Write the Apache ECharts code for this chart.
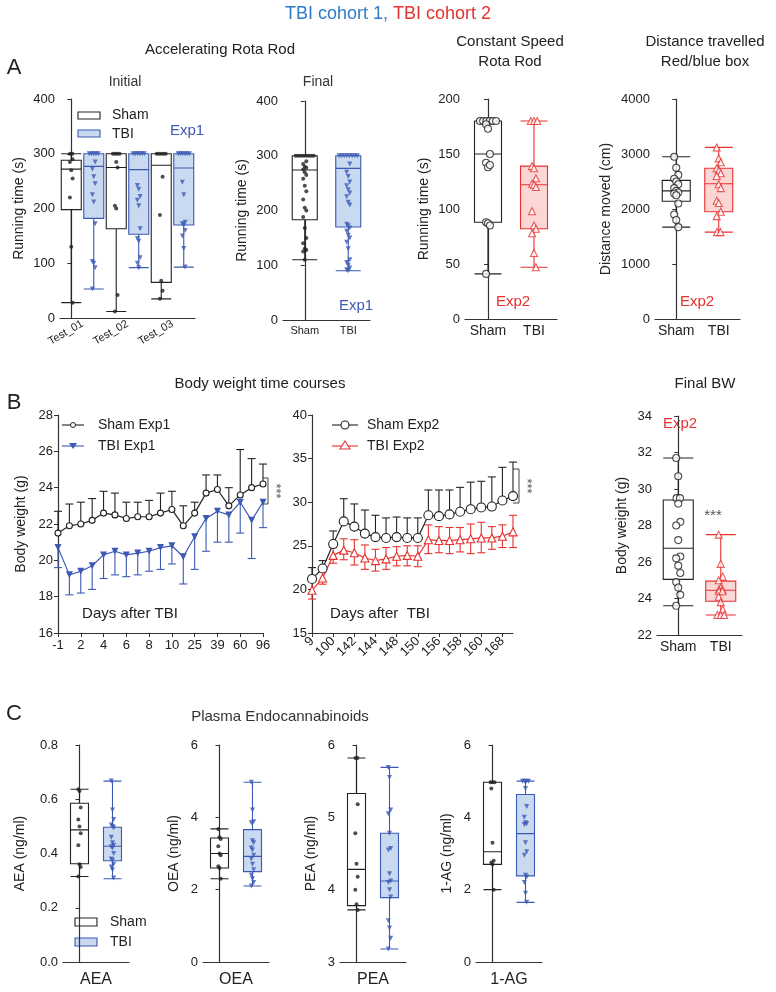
<!DOCTYPE html>
<html lang="en">
<head>
<meta charset="UTF-8">
<script src="https://cdn.jsdelivr.net/npm/echarts@6/dist/echarts.min.js"></script>
<title>TBI cohorts</title>
<style>body{margin:0;background:#fff}</style>
</head>
<body>
<div id="main" style="width:776px;height:992px"></div>
<script type="text/javascript">
// ---- data ----
var initGroups = ['Test_01', 'Test_02', 'Test_03'];
var init01Sham = [28, 198, 272, 288, 300];
var init01ShamPts = [300, 300, 290, 285, 270, 255, 220, 130, 28];
var init01Tbi = [53, 182, 277, 300, 300];
var init01TbiPts = [300, 300, 300, 300, 300, 285, 272, 258, 245, 225, 212, 172, 103, 100, 92, 53];
var init02Sham = [12, 163, 275, 300, 300];
var init02ShamPts = [300, 300, 300, 300, 285, 275, 205, 200, 42, 12];
var init02Tbi = [92, 153, 271, 300, 300];
var init02TbiPts = [300, 300, 300, 300, 300, 300, 242, 235, 222, 215, 205, 163, 145, 140, 110, 100, 92];
var init03Sham = [35, 65, 279, 300, 300];
var init03ShamPts = [300, 300, 300, 300, 300, 258, 188, 68, 50, 35];
var init03Tbi = [93, 170, 274, 300, 300];
var init03TbiPts = [300, 300, 300, 300, 300, 300, 248, 225, 175, 172, 170, 160, 150, 127, 93];

var groupsShamTbi = ['Sham', 'TBI'];
var finalSham = [110, 183, 274, 300, 300];
var finalShamPts = [300, 300, 300, 300, 300, 300, 300, 300, 290, 285, 280, 278, 275, 270, 265, 258, 245, 235, 220, 205, 200, 188, 168, 150, 140, 130, 128, 125, 110];
var finalTbi = [90, 170, 277, 300, 300];
var finalTbiPts = [300, 300, 300, 300, 300, 300, 300, 300, 285, 270, 262, 252, 245, 238, 232, 225, 215, 210, 175, 172, 168, 162, 155, 150, 142, 130, 110, 105, 100, 95, 92, 90];

var constSham = [41, 88, 150, 180, 180];
var constShamPts = [180, 180, 180, 180, 180, 180, 177, 173, 150, 142, 138, 140, 88, 87, 85, 41];
var constTbi = [47, 82, 122, 139, 180];
var constTbiPts = [180, 180, 180, 139, 137, 128, 123, 122, 120, 98, 85, 82, 78, 60, 47];

var distSham = [1670, 2140, 2330, 2520, 2950];
var distShamPts = [2950, 2750, 2620, 2550, 2500, 2450, 2380, 2330, 2300, 2280, 2250, 2100, 1900, 1800, 1670];
var distTbi = [1580, 1950, 2460, 2740, 3120];
var distTbiPts = [3120, 2920, 2850, 2740, 2700, 2650, 2600, 2450, 2380, 2150, 2110, 1950, 1870, 1580, 1580];

var days1 = ['-1', '1', '2', '3', '4', '5', '6', '7', '8', '9', '10', '14', '25', '32', '39', '46', '60', '74', '96'];
var sham1Mean = [21.5, 21.9, 22.0, 22.2, 22.6, 22.5, 22.3, 22.4, 22.4, 22.6, 22.8, 21.9, 22.6, 23.7, 23.9, 23.0, 23.6, 24.0, 24.2];
var sham1Hi = [22.7, 23.1, 23.2, 23.4, 23.8, 23.7, 23.2, 23.2, 23.3, 23.7, 23.8, 23.0, 23.2, 24.7, 24.7, 24.0, 26.1, 25.6, 25.3];
var tbi1Mean = [20.7, 19.2, 19.4, 19.7, 20.3, 20.5, 20.3, 20.4, 20.5, 20.7, 20.8, 20.2, 21.3, 22.3, 22.7, 22.5, 23.2, 22.2, 23.2];
var tbi1Lo = [19.6, 18.1, 18.2, 18.4, 19.0, 19.2, 19.1, 19.2, 19.4, 19.5, 19.8, 18.7, 19.5, 20.5, 21.0, 21.0, 21.5, 20.1, 21.8];

var days2 = ['9', '50', '100', '120', '142', '143', '144', '146', '148', '149', '150', '155', '156', '157', '158', '159', '160', '165', '168', '170'];
var sham2Mean = [21.2, 22.4, 25.2, 27.8, 27.2, 26.4, 26.0, 25.9, 26.0, 25.9, 25.9, 28.5, 28.4, 28.6, 28.9, 29.2, 29.4, 29.5, 30.2, 30.7];
var sham2Hi = [22.5, 23.3, 26.7, 30.4, 29.8, 29.1, 28.5, 28.2, 28.3, 28.2, 28.2, 31.4, 31.4, 31.4, 31.7, 32.3, 32.4, 32.9, 34.0, 34.6];
var tbi2Mean = [19.9, 21.3, 23.9, 24.5, 24.2, 23.6, 23.3, 23.5, 23.8, 23.9, 23.8, 25.7, 25.6, 25.6, 25.7, 25.8, 25.9, 25.9, 26.1, 26.6];
var tbi2Hi = [20.9, 22.0, 24.8, 25.8, 25.7, 25.1, 24.6, 24.8, 24.9, 25.0, 25.0, 27.4, 27.2, 27.1, 27.1, 27.5, 27.7, 27.2, 27.4, 28.5];
var tbi2Lo = [18.9, 20.6, 23.0, 23.4, 22.8, 22.3, 22.1, 22.3, 22.7, 22.7, 22.6, 24.1, 24.2, 24.1, 24.3, 24.1, 24.2, 24.6, 24.8, 24.8];

var bwSham = [23.6, 25.05, 26.75, 29.4, 31.7];
var bwShamPts = [31.7, 30.7, 29.5, 29.5, 29.2, 28.2, 28.0, 27.2, 26.3, 26.2, 25.8, 25.4, 24.9, 24.6, 24.2, 23.6];
var bwTbi = [23.1, 23.85, 24.45, 24.95, 27.5];
var bwTbiPts = [27.5, 25.9, 25.2, 25.0, 24.6, 24.5, 24.5, 24.4, 24.4, 24.1, 23.8, 23.4, 23.1, 23.1, 23.1];

var aeaSham = [0.315, 0.362, 0.487, 0.585, 0.637];
var aeaShamPts = [0.637, 0.63, 0.57, 0.525, 0.5, 0.475, 0.43, 0.36, 0.35, 0.315];
var aeaTbi = [0.307, 0.373, 0.427, 0.497, 0.667];
var aeaTbiPts = [0.667, 0.56, 0.525, 0.505, 0.5, 0.495, 0.46, 0.44, 0.43, 0.425, 0.42, 0.40, 0.38, 0.375, 0.36, 0.35, 0.34, 0.31];
var oeaSham = [2.3, 2.6, 3.0, 3.43, 3.68];
var oeaShamPts = [3.68, 3.45, 3.4, 3.2, 3.0, 2.95, 2.65, 2.6, 2.3];
var oeaTbi = [2.1, 2.5, 2.92, 3.66, 4.97];
var oeaTbiPts = [4.97, 4.2, 3.88, 3.85, 3.35, 3.3, 3.15, 3.1, 2.95, 2.85, 2.7, 2.55, 2.4, 2.3, 2.2, 2.1];
var peaSham = [3.72, 3.78, 4.28, 5.33, 5.82];
var peaShamPts = [5.82, 5.82, 5.18, 4.78, 4.36, 4.18, 4.0, 3.8, 3.72];
var peaTbi = [3.18, 3.89, 4.12, 4.78, 5.69];
var peaTbiPts = [5.69, 5.55, 5.1, 5.05, 4.78, 4.57, 4.55, 4.22, 4.12, 4.1, 4.0, 3.9, 3.57, 3.47, 3.33, 3.18];
var agSham = [2.0, 2.7, 3.05, 4.97, 4.97];
var agShamPts = [4.97, 4.97, 4.97, 4.8, 3.3, 2.8, 2.75, 2.7, 2.0];
var agTbi = [1.65, 2.38, 3.55, 4.63, 5.0];
var agTbiPts = [5, 5, 5, 5, 4.8, 4.3, 4.0, 3.85, 3.82, 3.8, 3.3, 3.05, 2.95, 2.4, 2.35, 2.2, 1.9, 1.65];

// ---- styles ----
var FONT = 'Liberation Sans, Arial, sans-serif';
var AX = '#333';
var BLUE = '#3b59b5', BLUEFILL = '#c8d9f0';
var RED = '#e8312f', REDFILL = '#fad6d5';
var BLACK = '#222';

var grids = [], xAxes = [], yAxes = [], series = [];

function jitter(pts, spread) {
    // spread tied values sideways, others slightly alternating
    var out = [];
    pts.forEach(function (v, i) {
        var same = pts.filter(function (w) { return w === v; }).length;
        if (same > 1) {
            var k = pts.slice(0, i).filter(function (w) { return w === v; }).length;
            out.push((k - (same - 1) / 2) * spread);
        } else {
            out.push(((i % 3) - 1) * spread * 0.6);
        }
    });
    return out;
}

function axisY(gi, p) {
    return {
        gridIndex: gi, type: 'value', min: p.ymin, max: p.ymax, interval: p.interval, position: 'left',
        name: p.yname, nameLocation: 'middle', nameGap: p.nameGap || 34,
        nameTextStyle: { fontSize: 14, color: '#222', fontFamily: FONT },
        splitLine: { show: false },
        axisLine: { show: true, lineStyle: { color: AX, width: 1.2 } },
        axisTick: { show: true, length: 4, lineStyle: { color: AX } },
        axisLabel: { fontSize: 13, color: '#222', fontFamily: FONT, margin: 5,
            formatter: function (v) { return v.toFixed(p.dec || 0); } }
    };
}

function addBoxPanel(p) {
    var gi = grids.length;
    grids.push({ left: p.left, top: p.top, width: p.width, height: p.height });
    var N = p.boxes.length;
    var xa0 = xAxes.length;
    xAxes.push({ gridIndex: gi, type: 'category', position: 'bottom', data: p.boxes.map(function (b, i) { return 'b' + i; }), show: false });
    xAxes.push({
        gridIndex: gi, type: 'category', position: 'bottom', data: p.groups,
        axisLine: { lineStyle: { color: AX, width: 1.2 } },
        axisTick: { alignWithLabel: true, length: 4, lineStyle: { color: AX } },
        axisLabel: { interval: 0, rotate: p.rotate || 0, fontSize: p.xfont || 13, color: '#222', fontFamily: FONT, margin: p.xmargin || 5 }
    });
    var xa2 = xAxes.length;
    xAxes.push({ gridIndex: gi, type: 'value', position: 'bottom', min: -0.5, max: N - 0.5, show: false });
    var ya = yAxes.length;
    yAxes.push(axisY(gi, p));
    series.push({
        type: 'boxplot', xAxisIndex: xa0, yAxisIndex: ya, boxWidth: [p.bw, p.bw], z: 2,
        data: p.boxes.map(function (b) {
            return { value: b.stats, itemStyle: { color: b.fill, borderColor: b.color, borderWidth: 1.1 } };
        })
    });
    p.boxes.forEach(function (b, i) {
        var off = jitter(b.pts, p.spread || 0.07);
        series.push({
            type: 'scatter', xAxisIndex: xa2, yAxisIndex: ya, z: 3,
            symbol: b.symbol, symbolSize: b.size, symbolRotate: b.rot || 0,
            itemStyle: b.hollow ? { color: '#fff', borderColor: b.color, borderWidth: 1.1 } : { color: b.color },
            data: b.pts.map(function (v, k) { return [i + off[k], v]; })
        });
    });
}

var sham1 = function (stats, pts) { return { stats: stats, pts: pts, color: BLACK, fill: '#fff', symbol: 'circle', size: 4 }; };
var tbi1 = function (stats, pts) { return { stats: stats, pts: pts, color: BLUE, fill: BLUEFILL, symbol: 'triangle', rot: 180, size: 5 }; };
var sham2 = function (stats, pts) { return { stats: stats, pts: pts, color: BLACK, fill: '#fff', symbol: 'circle', size: 7, hollow: true }; };
var tbi2 = function (stats, pts) { return { stats: stats, pts: pts, color: RED, fill: REDFILL, symbol: 'triangle', size: 7, hollow: true }; };

// Panel A
addBoxPanel({ left: 60, top: 99, width: 135, height: 219, ymin: 0, ymax: 400, interval: 100, yname: 'Running time (s)', nameGap: 34,
    groups: initGroups, rotate: 30, xfont: 11, bw: 20, spread: 0.1,
    boxes: [sham1(init01Sham, init01ShamPts), tbi1(init01Tbi, init01TbiPts), sham1(init02Sham, init02ShamPts),
        tbi1(init02Tbi, init02TbiPts), sham1(init03Sham, init03ShamPts), tbi1(init03Tbi, init03TbiPts)] });
addBoxPanel({ left: 283, top: 101, width: 87, height: 219, ymin: 0, ymax: 400, interval: 100, yname: 'Running time (s)', nameGap: 34,
    groups: groupsShamTbi, xfont: 11, bw: 25, spread: 0.06,
    boxes: [sham1(finalSham, finalShamPts), tbi1(finalTbi, finalTbiPts)] });
addBoxPanel({ left: 465, top: 99, width: 92, height: 220, ymin: 0, ymax: 200, interval: 50, yname: 'Running time (s)', nameGap: 34,
    groups: groupsShamTbi, xfont: 14, bw: 27, spread: 0.07,
    boxes: [sham2(constSham, constShamPts), tbi2(constTbi, constTbiPts)] });
addBoxPanel({ left: 655, top: 99, width: 85, height: 220, ymin: 0, ymax: 4000, interval: 1000, yname: 'Distance moved (cm)', nameGap: 42,
    groups: groupsShamTbi, xfont: 14, bw: 28, spread: 0.08,
    boxes: [sham2(distSham, distShamPts), tbi2(distTbi, distTbiPts)] });

// Panel B line charts
function addLinePanel(p) {
    var gi = grids.length;
    grids.push({ left: p.left, top: p.top, width: p.width, height: p.height });
    var xa = xAxes.length;
    xAxes.push({
        gridIndex: gi, type: 'category', position: 'bottom', data: p.days, boundaryGap: false,
        axisLine: { lineStyle: { color: AX, width: 1.2 } },
        axisTick: { interval: 1, length: 4, lineStyle: { color: AX } },
        axisLabel: { interval: 1, rotate: p.rotate || 0, fontSize: 13, color: '#222', fontFamily: FONT, margin: 6 }
    });
    var ya = yAxes.length;
    yAxes.push(axisY(gi, p));
    p.lines.forEach(function (l) {
        series.push({
            type: 'custom', xAxisIndex: xa, yAxisIndex: ya, z: 2,
            renderItem: function (params, api) {
                var ch = [];
                [1, 2].forEach(function (k) {
                    var v = api.value(k + 1);
                    if (isNaN(v)) return;
                    var a = api.coord([api.value(0), api.value(1)]);
                    var b = api.coord([api.value(0), v]);
                    ch.push({ type: 'line', shape: { x1: a[0], y1: a[1], x2: b[0], y2: b[1] }, style: { stroke: l.color, lineWidth: 1.1 } });
                    ch.push({ type: 'line', shape: { x1: b[0] - 4, y1: b[1], x2: b[0] + 4, y2: b[1] }, style: { stroke: l.color, lineWidth: 1.1 } });
                });
                return { type: 'group', children: ch };
            },
            data: l.mean.map(function (m, i) {
                return [i, m, l.hi ? l.hi[i] : NaN, l.lo ? l.lo[i] : NaN];
            })
        });
        series.push({
            type: 'line', xAxisIndex: xa, yAxisIndex: ya, data: l.mean, z: 3,
            symbol: l.symbol, symbolSize: l.size, symbolRotate: l.rot || 0, showAllSymbol: true,
            lineStyle: { color: l.color, width: 1.2 },
            itemStyle: l.hollow ? { color: '#fff', borderColor: l.color, borderWidth: 1.1 } : { color: l.color }
        });
    });
}
addLinePanel({ left: 58, top: 415, width: 205, height: 218, ymin: 16, ymax: 28, interval: 2, yname: 'Body weight (g)', nameGap: 30,
    days: days1, lines: [
        { mean: sham1Mean, hi: sham1Hi, color: BLACK, symbol: 'circle', size: 6, hollow: true },
        { mean: tbi1Mean, lo: tbi1Lo, color: BLUE, symbol: 'triangle', rot: 180, size: 7 }] });
addLinePanel({ left: 312, top: 415, width: 201, height: 218, ymin: 15, ymax: 40, interval: 5, yname: '', rotate: 45,
    days: days2, lines: [
        { mean: sham2Mean, hi: sham2Hi, color: BLACK, symbol: 'circle', size: 9, hollow: true },
        { mean: tbi2Mean, hi: tbi2Hi, lo: tbi2Lo, color: RED, symbol: 'triangle', size: 8, hollow: true }] });
addBoxPanel({ left: 657, top: 416, width: 85, height: 219, ymin: 22, ymax: 34, interval: 2, yname: 'Body weight (g)', nameGap: 28,
    groups: groupsShamTbi, xfont: 14, bw: 30, spread: 0.08,
    boxes: [sham2(bwSham, bwShamPts), tbi2(bwTbi, bwTbiPts)] });

// Panel C
var cPanels = [
    { left: 63, ymin: 0, ymax: 0.8, interval: 0.2, dec: 1, yname: 'AEA (ng/ml)', g: 'AEA', s: aeaSham, sp: aeaShamPts, t: aeaTbi, tp: aeaTbiPts, gap: 36 },
    { left: 203, ymin: 0, ymax: 6, interval: 2, yname: 'OEA (ng/ml)', g: 'OEA', s: oeaSham, sp: oeaShamPts, t: oeaTbi, tp: oeaTbiPts, gap: 22 },
    { left: 340, ymin: 3, ymax: 6, interval: 1, yname: 'PEA (ng/ml)', g: 'PEA', s: peaSham, sp: peaShamPts, t: peaTbi, tp: peaTbiPts, gap: 22 },
    { left: 476, ymin: 0, ymax: 6, interval: 2, yname: '1-AG (ng/ml)', g: '1-AG', s: agSham, sp: agShamPts, t: agTbi, tp: agTbiPts, gap: 22 }
];
cPanels.forEach(function (c) {
    addBoxPanel({ left: c.left, top: 745, width: 66, height: 217, ymin: c.ymin, ymax: c.ymax, interval: c.interval, dec: c.dec,
        yname: c.yname, nameGap: c.gap, groups: [c.g], xfont: 16, xmargin: 10, bw: 18, spread: 0.06,
        boxes: [sham1(c.s, c.sp), tbi1(c.t, c.tp)] });
});

// ---- text / legends ----
function txt(x, y, s, size, color, extra, rot) {
    var o = { type: 'text', x: x, y: y, rotation: rot || 0, style: { text: s, fontSize: size, fill: color || '#222', fontFamily: FONT, textAlign: 'center', textVerticalAlign: 'middle' } };
    if (extra) Object.keys(extra).forEach(function (k) { o.style[k] = extra[k]; });
    return o;
}
function rect(x, y, w, h, fill, stroke) {
    return { type: 'rect', shape: { x: x, y: y, width: w, height: h }, style: { fill: fill, stroke: stroke, lineWidth: 1.1 } };
}
function seg(x1, y1, x2, y2, c) {
    return { type: 'line', shape: { x1: x1, y1: y1, x2: x2, y2: y2 }, style: { stroke: c, lineWidth: 1.1 } };
}
var graphics = [
    { type: 'text', x: 388, y: 14, style: { text: '{b|TBI cohort 1, }{r|TBI cohort 2}', textAlign: 'center', textVerticalAlign: 'middle',
        rich: { b: { fill: '#2f7bc8', fontSize: 18, fontFamily: FONT }, r: { fill: '#e3342f', fontSize: 18, fontFamily: FONT } } } },
    txt(14, 68, 'A', 22), txt(14, 403, 'B', 22), txt(14, 714, 'C', 22),
    txt(220, 50, 'Accelerating Rota Rod', 15),
    txt(125, 82, 'Initial', 14, '#333'), txt(318, 82, 'Final', 14, '#333'),
    txt(510, 42, 'Constant Speed', 15), txt(510, 62, 'Rota Rod', 15),
    txt(705, 42, 'Distance travelled', 15), txt(705, 62, 'Red/blue box', 15),
    txt(187, 131, 'Exp1', 15, BLUE), txt(356, 306, 'Exp1', 15, BLUE),
    txt(513, 302, 'Exp2', 15, RED), txt(697, 302, 'Exp2', 15, RED),
    rect(78, 112, 22, 7, '#fff', BLACK), rect(78, 130, 22, 7, BLUEFILL, BLUE),
    txt(112, 115, 'Sham', 14, '#222', { textAlign: 'left' }), txt(112, 134, 'TBI', 14, '#222', { textAlign: 'left' }),
    txt(260, 384, 'Body weight time courses', 15), txt(705, 384, 'Final BW', 15),
    txt(130, 614, 'Days after TBI', 15), txt(380, 614, 'Days after  TBI', 15),
    txt(680, 424, 'Exp2', 15, RED), txt(713, 516, '***', 15, '#555'),
    seg(62, 425, 84, 425, BLACK), { type: 'circle', shape: { cx: 73, cy: 425, r: 2.5 }, style: { fill: '#fff', stroke: BLACK, lineWidth: 1 } },
    seg(62, 446, 84, 446, BLUE), { type: 'polygon', shape: { points: [[69, 443], [77, 443], [73, 449]] }, style: { fill: BLUE } },
    txt(98, 425, 'Sham Exp1', 14, '#222', { textAlign: 'left' }), txt(98, 446, 'TBI Exp1', 14, '#222', { textAlign: 'left' }),
    seg(332, 425, 358, 425, BLACK), { type: 'circle', shape: { cx: 345, cy: 425, r: 4 }, style: { fill: '#fff', stroke: BLACK, lineWidth: 1.1 } },
    seg(332, 446, 358, 446, RED), { type: 'polygon', shape: { points: [[340, 449], [350, 449], [345, 441]] }, style: { fill: '#fff', stroke: RED, lineWidth: 1.1 } },
    txt(367, 425, 'Sham Exp2', 14, '#222', { textAlign: 'left' }), txt(367, 446, 'TBI Exp2', 14, '#222', { textAlign: 'left' }),
    seg(263, 478, 268, 478, '#555'), seg(268, 478, 268, 504, '#555'), seg(263, 504, 268, 504, '#555'),
    txt(276, 491, '***', 13, '#555', null, -Math.PI / 2),
    seg(513, 469, 519, 469, '#555'), seg(519, 469, 519, 503, '#555'), seg(513, 503, 519, 503, '#555'),
    txt(527, 486, '***', 13, '#555', null, -Math.PI / 2),
    txt(280, 717, 'Plasma Endocannabinoids', 15, '#333'),
    rect(75, 918, 22, 8, '#fff', BLACK), rect(75, 938, 22, 8, BLUEFILL, BLUE),
    txt(110, 922, 'Sham', 14, '#222', { textAlign: 'left' }), txt(110, 942, 'TBI', 14, '#222', { textAlign: 'left' })
];

var chart = echarts.init(document.getElementById('main'));
chart.setOption({
    animation: false,
    backgroundColor: '#fff',
    textStyle: { fontFamily: FONT },
    grid: grids, xAxis: xAxes, yAxis: yAxes, series: series,
    graphic: graphics
});
</script>
</body>
</html>
